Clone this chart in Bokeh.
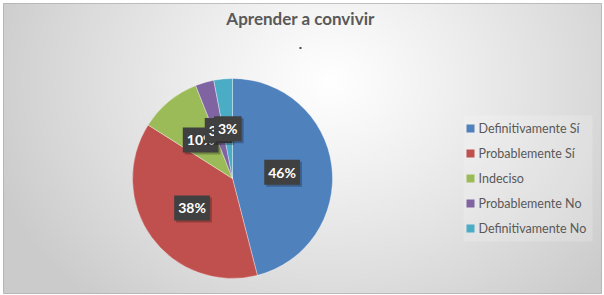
import numpy as np
from bokeh.plotting import figure
from bokeh.models import Range1d, ColumnDataSource
from bokeh.core.properties import value
from bokeh.embed import file_html
from bokeh.resources import INLINE

# ---- data ----
categories = ["Definitivamente Sí", "Probablemente Sí", "Indeciso", "Probablemente No", "Definitivamente No"]
percentages = [46, 38, 10, 3, 3]
colors = ["#4F81BD", "#C0504D", "#9BBB59", "#8064A2", "#4BACC6"]
title_text = "Aprender a convivir"
subtitle_text = "."

W, H = 604, 295
FONT = "Lato"

p = figure(width=W, height=H, output_backend="svg", toolbar_location=None,
           x_range=Range1d(3, 601), y_range=Range1d(2, 292),
           min_border_left=3, min_border_right=3, min_border_top=3, min_border_bottom=2)
p.axis.visible = False
p.grid.visible = False
p.background_fill_color = "#ffffff"
p.border_fill_color = "#ffffff"
p.outline_line_color = "#b0b0b0"
p.outline_line_width = 1

def Y(ypx):
    return H - ypx

# ---- radial gradient background ----
gx = np.linspace(3, 601, 300)
gy = np.linspace(2, 292, 150)
XX, YY = np.meshgrid(gx, gy)
cx, cy = 330, Y(80)
d = np.sqrt(((XX - cx) / 1.0) ** 2 + ((YY - cy) / 0.85) ** 2)
t = np.clip(d / 360.0, 0, 1) ** 1.1
g = (255 - (255 - 203) * t).astype(np.uint32)
img = (255 << 24) | (g << 16) | (g << 8) | g
p.image_rgba(image=[img.astype(np.uint32)], x=3, y=2, dw=598, dh=290)

# legend backing box
p.quad(left=463, right=592, top=Y(115), bottom=Y(241), fill_color="#ffffff",
       fill_alpha=0.18, line_color=None)

# ---- pie ----
vals = np.array(percentages, dtype=float)
frac = vals / vals.sum()
cum = np.concatenate([[0], np.cumsum(frac)])
start = np.pi / 2 - cum[:-1] * 2 * np.pi
end = np.pi / 2 - cum[1:] * 2 * np.pi
PCX, PCY, R = 232, Y(178), 100
src = ColumnDataSource(dict(start=start, end=end, color=colors, cat=categories))
p.wedge(x=PCX, y=PCY, radius=R, start_angle="start", end_angle="end",
        direction="clock", fill_color="color", line_color="#ffffff", line_width=0.5,
        line_alpha=0.7, source=src)

# ---- data labels ----
mid = (cum[:-1] + cum[1:]) / 2 * 2 * np.pi
lx = PCX + 0.5 * R * np.sin(mid)
ly = PCY + 0.5 * R * np.cos(mid)
labels = [f"{v}%" for v in percentages]
for i in range(len(labels)):
    p.text(x=[lx[i] + 2], y=[ly[i] - 2], text=[labels[i]], text_align="center",
           text_baseline="middle", text_font=value(FONT), text_font_style="bold",
           text_font_size="14px", text_color="#000000", text_alpha=0.0,
           background_fill_color="#000000", background_fill_alpha=0.25, padding=4)
    p.text(x=[lx[i]], y=[ly[i]], text=[labels[i]], text_align="center",
           text_baseline="middle", text_font=value(FONT), text_font_style="bold",
           text_font_size="14px", text_color="#ffffff",
           background_fill_color="#404040", padding=4)

# ---- title ----
p.text(x=[300], y=[Y(18)], text=[title_text], text_align="center", text_baseline="middle",
       text_font=value(FONT), text_font_style="bold", text_font_size="17px", text_color="#595959")
p.text(x=[300], y=[Y(43)], text=[subtitle_text], text_align="center", text_baseline="middle",
       text_font=value(FONT), text_font_style="bold", text_font_size="14px", text_color="#404040")

# ---- legend ----
n = len(categories)
leg_y = [Y(128 + 25 * i) for i in range(n)]
p.scatter(x=[470] * n, y=leg_y, marker="square", size=8, fill_color=colors, line_color=None)
p.text(x=[478] * n, y=leg_y, text=categories, text_align="left", text_baseline="middle",
       text_font=value(FONT), text_font_size="12.5px", text_color="#595959")

open("out.html", "w").write(file_html(p, INLINE))
